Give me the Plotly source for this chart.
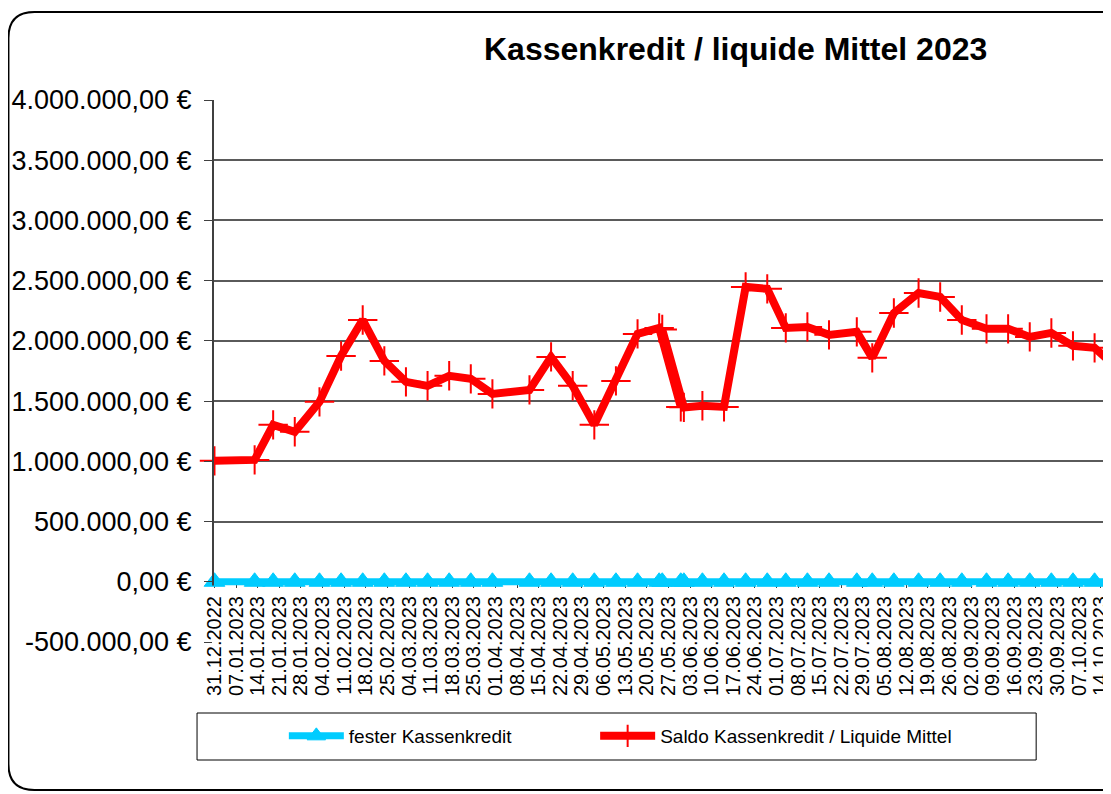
import plotly.graph_objects as go

# ---- data ----
dates = [
    "2022-12-31", "2023-01-13", "2023-01-19", "2023-01-26", "2023-02-03",
    "2023-02-10", "2023-02-17", "2023-02-24", "2023-03-03", "2023-03-10",
    "2023-03-17", "2023-03-24", "2023-03-31", "2023-04-12", "2023-04-19",
    "2023-04-26", "2023-05-03", "2023-05-10", "2023-05-17", "2023-05-24",
    "2023-05-31", "2023-05-25", "2023-06-01", "2023-06-07", "2023-06-14",
    "2023-06-21", "2023-06-28", "2023-07-04", "2023-07-11", "2023-07-18",
    "2023-07-27", "2023-08-01", "2023-08-08", "2023-08-16", "2023-08-23",
    "2023-08-30", "2023-09-07", "2023-09-14", "2023-09-21", "2023-09-28",
    "2023-10-05", "2023-10-12", "2023-10-19",
]
saldo = [
    1004000, 1012000, 1303000, 1245000, 1494000,
    1875000, 2174000, 1834000, 1660000, 1627000,
    1710000, 1685000, 1560000, 1593000, 1867000,
    1627000, 1303000, 1668000, 2058000, 2108000,
    1452000, 2095000, 1448000, 1461000, 1452000,
    2448000, 2432000, 2108000, 2116000, 2050000,
    2075000, 1859000, 2232000, 2398000, 2365000,
    2174000, 2100000, 2100000, 2033000, 2066000,
    1959000, 1942000, 1780000,
]
fester = [0] * len(dates)

ytick_vals = [-500000, 0, 500000, 1000000, 1500000, 2000000,
              2500000, 3000000, 3500000, 4000000]
ytick_text = ["-500.000,00 €", "0,00 €", "500.000,00 €", "1.000.000,00 €",
              "1.500.000,00 €", "2.000.000,00 €", "2.500.000,00 €",
              "3.000.000,00 €", "3.500.000,00 €", "4.000.000,00 €"]

title_text = "Kassenkredit / liquide Mittel 2023"
name_fest = "fester Kassenkredit"
name_saldo = "Saldo Kassenkredit / Liquide Mittel"

# ---- layout geometry (page pixels; page body has an 8px margin) ----
OFF = 8
W, H = 1111 - OFF, 794 - OFF
L, R, T = 213 - OFF, 0, 100 - OFF
B = H - (642 - OFF)
PW, PH = W - L - R, H - T - B


def px(xp):
    return (xp - OFF - L) / PW


def py(yp):
    return (H - B - (yp - OFF)) / PH


FONT = "Arial, Liberation Sans, sans-serif"

fig = go.Figure()
fig.add_trace(go.Scatter(
    x=dates, y=fester, name=name_fest, mode="lines+markers",
    line=dict(color="#00CCFF", width=7),
    marker=dict(symbol="triangle-up", size=18, color="#00CCFF",
                line=dict(color="#00CCFF", width=1)),
    cliponaxis=False, legend="legend",
))
fig.add_trace(go.Scatter(
    x=dates, y=saldo, name=name_saldo, mode="lines+markers",
    line=dict(color="#FF0000", width=8),
    marker=dict(symbol="cross-thin", size=21,
                line=dict(color="#FF0000", width=2)),
    cliponaxis=False, legend="legend2",
))

# outer rounded frame
r = 26
pts = [(1200, 12), (8 + r, 12), (8, 12), (8, 12 + r), (8, 790 - r), (8, 790), (8 + r, 790), (1200, 790)]
c = [(px(a), py(b)) for a, b in pts]
path = ("M {:.5f},{:.5f} L {:.5f},{:.5f} Q {:.5f},{:.5f} {:.5f},{:.5f} "
        "L {:.5f},{:.5f} Q {:.5f},{:.5f} {:.5f},{:.5f} L {:.5f},{:.5f}").format(
    *[v for p in c for v in p])

shapes = [
    dict(type="path", xref="paper", yref="paper", path=path,
         line=dict(color="black", width=2), layer="above"),
    # legend frame
    dict(type="rect", xref="paper", yref="paper",
         x0=px(197), x1=px(1038), y0=py(760), y1=py(713),
         line=dict(color="black", width=1), fillcolor="rgba(0,0,0,0)"),
    # y axis line
    dict(type="line", xref="paper", yref="y", x0=0, x1=0, y0=-30000, y1=4000000,
         line=dict(color="#404040", width=2), layer="above"),
]

legend_common = dict(orientation="h", xanchor="left", yanchor="middle",
                     font=dict(size=19, family=FONT, color="black"),
                     bgcolor="rgba(0,0,0,0)", borderwidth=0, itemwidth=55)

fig.update_layout(
    width=W, height=H,
    margin=dict(l=L, r=R, t=T, b=B, pad=0),
    paper_bgcolor="white", plot_bgcolor="white",
    font=dict(family=FONT, color="black"),
    showlegend=True,
    legend=dict(x=px(290 - 6), y=py(736), **legend_common),
    legend2=dict(x=px(602 - 6), y=py(736), **legend_common),
    shapes=shapes,
    annotations=[dict(text="<b>" + title_text + "</b>", xref="paper", yref="paper",
                      x=px(737), y=py(49), xanchor="center", yanchor="middle",
                      showarrow=False, font=dict(size=32, family=FONT, color="black"))],
    xaxis=dict(
        type="date",
        range=["2022-12-30 12:30", "2023-10-16 16:00"],
        tick0="2022-12-31", dtick=7 * 24 * 3600 * 1000,
        tickformat="%d.%m.%Y", tickangle=-90,
        tickfont=dict(size=20, family=FONT, color="black"),
        ticklabeloverflow="allow",
        ticks="outside", ticklen=5, tickcolor="#404040",
        showgrid=False, zeroline=False,
        showline=True, linecolor="#00CCFF", linewidth=2,
        layer="below traces",
        anchor="free", position=py(582),
    ),
    yaxis=dict(
        range=[-500000, 4000000],
        tickvals=ytick_vals, ticktext=ytick_text,
        tickfont=dict(size=27, family=FONT, color="black"),
        ticks="outside", ticklen=8, tickcolor="#404040",
        ticklabelstandoff=7,
        showgrid=True, gridcolor="#5a5a5a", gridwidth=1.5,
        zeroline=False, showline=False,
    ),
)

fig.write_html("out.html")
